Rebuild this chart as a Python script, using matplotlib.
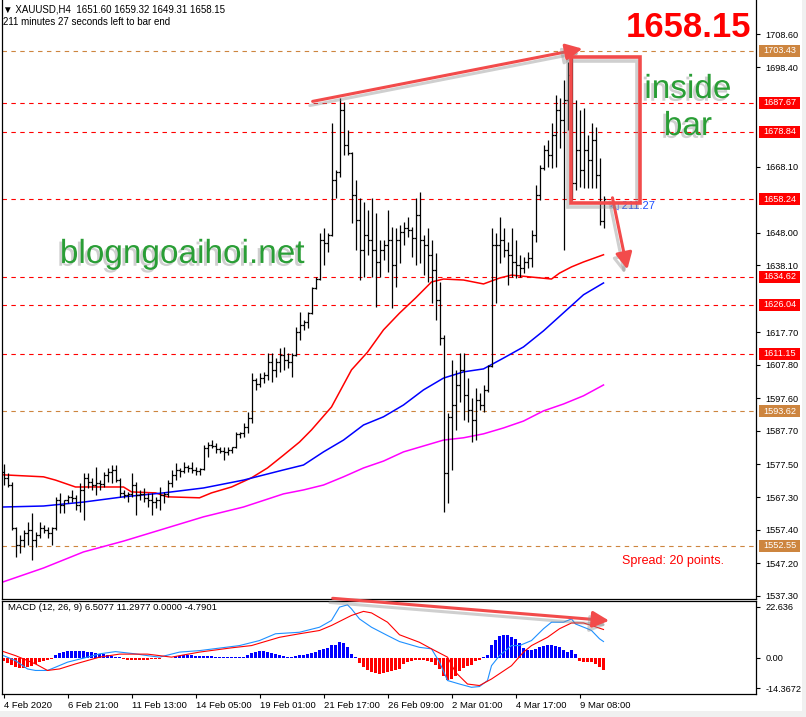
import matplotlib
matplotlib.use("Agg")
import matplotlib.pyplot as plt
import matplotlib.patheffects as pe
from matplotlib.patches import FancyArrowPatch, Rectangle
from matplotlib.transforms import blended_transform_factory

plt.rcParams['font.family'] = ['Liberation Sans', 'DejaVu Sans']

# XAUUSD H4 bars (4 Feb 2020 - 9 Mar 2020)
bar_open = [1575.0, 1573.3, 1571.1, 1558.0, 1552.8, 1554.4, 1556.5, 1557.4, 1554.4, 1555.9,
            1558.0, 1557.4, 1556.5, 1558.0, 1566.5, 1565.0, 1566.5, 1567.5, 1567.2, 1565.0,
            1569.6, 1573.3, 1572.0, 1571.1, 1571.7, 1571.4, 1574.2, 1575.1, 1575.7, 1572.6,
            1568.7, 1568.1, 1568.4, 1571.1, 1568.1, 1568.4, 1567.2, 1566.5, 1565.9, 1566.5,
            1568.1, 1568.4, 1571.7, 1574.2, 1575.7, 1575.4, 1576.6, 1576.3, 1575.7, 1575.4,
            1576.0, 1582.4, 1583.3, 1583.0, 1582.1, 1581.5, 1581.2, 1581.8, 1582.7, 1586.7,
            1587.0, 1588.8, 1591.6, 1603.1, 1601.9, 1603.7, 1604.7, 1608.6, 1606.2, 1608.6,
            1610.8, 1609.2, 1608.6, 1610.8, 1617.8, 1619.9, 1620.8, 1623.6, 1631.2, 1633.9,
            1645.8, 1644.9, 1647.3, 1664.1, 1666.6, 1685.5, 1674.8, 1672.4, 1659.5, 1651.9,
            1642.8, 1647.3, 1645.8, 1642.8, 1639.1, 1642.8, 1644.3, 1645.8, 1638.2, 1645.8,
            1648.3, 1649.5, 1648.9, 1646.4, 1653.5, 1645.8, 1644.3, 1641.3, 1636.7, 1627.5,
            1615.9, 1574.8, 1591.9, 1595.5, 1601.6, 1606.2, 1598.6, 1594.0, 1590.9, 1597.0,
            1595.5, 1600.1, 1607.4, 1644.3, 1644.3, 1645.8, 1642.8, 1641.3, 1639.1, 1638.2,
            1637.3, 1639.1, 1640.3, 1647.3, 1659.5, 1667.8, 1673.3, 1671.7, 1677.8, 1685.5,
            1682.4, 1688.5, 1696.1, 1663.2, 1673.3, 1667.2, 1673.3, 1670.2, 1676.3, 1665.6,
            1651.60]
bar_high = [1577.5, 1574.8, 1572.0, 1558.3, 1555.9, 1557.4, 1559.8, 1562.6, 1556.8, 1559.8,
            1558.9, 1558.3, 1558.3, 1567.5, 1568.7, 1566.5, 1568.1, 1569.6, 1568.1, 1571.7,
            1574.8, 1574.8, 1573.3, 1576.6, 1572.6, 1575.1, 1576.3, 1577.2, 1577.2, 1573.3,
            1569.6, 1569.0, 1574.8, 1572.0, 1569.6, 1570.2, 1568.7, 1568.7, 1567.5, 1570.5,
            1569.0, 1572.6, 1575.7, 1577.8, 1576.3, 1578.1, 1577.2, 1578.1, 1576.6, 1576.3,
            1583.3, 1584.2, 1584.8, 1583.9, 1582.7, 1582.7, 1582.7, 1582.7, 1587.3, 1587.3,
            1590.0, 1593.4, 1605.3, 1603.7, 1605.3, 1605.6, 1611.4, 1611.4, 1609.8, 1612.9,
            1613.2, 1611.4, 1611.4, 1619.3, 1623.9, 1621.4, 1623.9, 1631.5, 1634.5, 1648.0,
            1649.5, 1648.0, 1681.5, 1667.2, 1689.1, 1687.9, 1679.4, 1672.7, 1664.1, 1658.6,
            1657.4, 1655.0, 1658.6, 1654.1, 1645.8, 1645.8, 1655.0, 1649.8, 1649.5, 1650.4,
            1651.3, 1652.8, 1649.8, 1658.6, 1660.5, 1647.3, 1649.5, 1645.8, 1641.9, 1633.0,
            1616.9, 1593.1, 1609.2, 1606.2, 1611.4, 1611.4, 1603.7, 1597.7, 1600.7, 1599.2,
            1601.6, 1607.7, 1649.5, 1648.0, 1652.8, 1649.5, 1645.2, 1649.5, 1645.8, 1641.3,
            1640.6, 1642.2, 1648.9, 1662.6, 1668.7, 1674.8, 1676.3, 1681.5, 1690.0, 1689.1,
            1694.6, 1700.1, 1701.6, 1688.5, 1685.5, 1686.1, 1677.8, 1681.5, 1680.3, 1670.8,
            1659.32]
bar_low = [1571.1, 1570.5, 1557.4, 1549.2, 1550.4, 1552.2, 1552.8, 1548.3, 1552.2, 1555.0,
           1556.5, 1555.0, 1552.8, 1557.4, 1562.6, 1562.6, 1565.6, 1565.9, 1563.5, 1562.9,
           1560.5, 1570.2, 1569.6, 1568.1, 1569.6, 1570.5, 1572.0, 1571.7, 1572.0, 1567.5,
           1567.2, 1565.9, 1567.5, 1562.0, 1566.5, 1565.9, 1564.4, 1562.0, 1564.1, 1563.5,
           1565.6, 1567.5, 1570.5, 1572.6, 1573.6, 1574.8, 1575.1, 1574.8, 1574.2, 1574.2,
           1575.7, 1579.7, 1582.4, 1580.9, 1580.9, 1578.7, 1580.3, 1580.9, 1582.4, 1585.5,
           1585.8, 1587.0, 1590.0, 1600.1, 1601.0, 1602.2, 1603.1, 1602.5, 1604.1, 1605.6,
           1606.2, 1606.8, 1604.1, 1610.5, 1615.3, 1618.4, 1619.0, 1623.3, 1630.8, 1633.6,
           1638.2, 1642.2, 1647.0, 1658.6, 1665.0, 1671.7, 1671.7, 1651.0, 1642.8, 1633.6,
           1634.5, 1641.3, 1634.5, 1625.4, 1634.5, 1639.7, 1636.1, 1625.1, 1631.5, 1638.8,
           1644.3, 1646.7, 1640.6, 1638.2, 1638.8, 1635.2, 1633.0, 1626.6, 1621.4, 1613.8,
           1562.9, 1565.6, 1575.7, 1587.9, 1596.4, 1590.9, 1590.3, 1584.2, 1584.8, 1594.0,
           1593.4, 1599.5, 1607.1, 1626.6, 1638.8, 1640.6, 1632.1, 1634.5, 1634.2, 1634.5,
           1635.8, 1637.3, 1637.6, 1645.2, 1658.0, 1667.2, 1668.1, 1667.8, 1668.1, 1673.9,
           1642.8, 1679.4, 1658.0, 1661.1, 1662.0, 1661.7, 1661.7, 1661.7, 1661.7, 1650.4,
           1649.31]
bar_close = [1573.3, 1571.1, 1558.0, 1552.8, 1554.4, 1556.5, 1557.4, 1554.4, 1555.9, 1558.0,
             1557.4, 1556.5, 1558.0, 1566.5, 1565.0, 1566.5, 1567.5, 1567.2, 1565.0, 1569.6,
             1573.3, 1572.0, 1571.1, 1571.7, 1571.4, 1574.2, 1575.1, 1575.7, 1572.6, 1568.7,
             1568.1, 1568.4, 1571.1, 1568.1, 1568.4, 1567.2, 1566.5, 1565.9, 1566.5, 1568.1,
             1568.4, 1571.7, 1574.2, 1575.7, 1575.4, 1576.6, 1576.3, 1575.7, 1575.4, 1576.0,
             1582.4, 1583.3, 1583.0, 1582.1, 1581.5, 1581.2, 1581.8, 1582.7, 1586.7, 1587.0,
             1588.8, 1591.6, 1603.1, 1601.9, 1603.7, 1604.7, 1608.6, 1606.2, 1608.6, 1610.8,
             1609.2, 1608.6, 1610.8, 1617.8, 1619.9, 1620.8, 1623.6, 1631.2, 1633.9, 1645.8,
             1644.9, 1647.3, 1664.1, 1666.6, 1685.5, 1674.8, 1672.4, 1659.5, 1651.9, 1642.8,
             1647.3, 1645.8, 1642.8, 1639.1, 1642.8, 1644.3, 1645.8, 1638.2, 1645.8, 1648.3,
             1649.5, 1648.9, 1646.4, 1653.5, 1645.8, 1644.3, 1641.3, 1636.7, 1627.5, 1615.9,
             1574.8, 1591.9, 1595.5, 1601.6, 1606.2, 1598.6, 1594.0, 1590.9, 1597.0, 1595.5,
             1600.1, 1607.4, 1644.3, 1644.3, 1645.8, 1642.8, 1641.3, 1639.1, 1638.2, 1637.3,
             1639.1, 1640.3, 1647.3, 1659.5, 1667.8, 1673.3, 1671.7, 1677.8, 1685.5, 1682.4,
             1688.5, 1696.1, 1663.2, 1673.3, 1667.2, 1673.3, 1670.2, 1676.3, 1665.6, 1651.6,
             1658.15]

# moving averages, read at sample bars
red_idx = [0, 10, 13, 18, 30, 32, 38, 41, 49, 52, 57, 62, 66, 70, 74, 77, 82, 87, 91, 95,
           99, 103, 107, 110, 115, 120, 124, 127, 132, 137, 139, 142, 145, 150]
ma_red = [1574.2, 1573.6, 1572.6, 1570.5, 1570.5, 1569.0, 1568.7, 1567.5, 1567.2, 1568.7,
          1570.5, 1573.3, 1576.3, 1580.2, 1584.2, 1587.9, 1594.9, 1606.2, 1611.6, 1618.4,
          1623.5, 1628.1, 1633.0, 1633.9, 1633.6, 1632.4, 1634.2, 1635.1, 1634.5, 1633.9,
          1635.7, 1637.6, 1639.1, 1641.3]
ma_idx = [0, 10, 20, 30, 40, 50, 60, 70, 75, 80, 85, 90, 95, 100, 105, 110, 115, 120,
          125, 130, 135, 140, 145, 150]
ma_blue = [1564.4, 1564.7, 1565.9, 1567.5, 1568.7, 1570.2, 1572.6, 1575.7, 1577.2, 1581.2,
           1584.8, 1589.4, 1591.9, 1595.5, 1600.1, 1603.7, 1605.6, 1606.5, 1609.8, 1613.2,
           1618.1, 1623.6, 1629.1, 1632.7]
ma_magenta = [1541.6, 1545.8, 1550.7, 1554.0, 1557.7, 1561.4, 1564.4, 1568.4, 1569.6, 1571.1,
              1573.6, 1576.3, 1578.4, 1581.2, 1583.0, 1584.8, 1585.5, 1586.7, 1588.5, 1590.6,
              1593.7, 1595.8, 1598.3, 1601.6]

# horizontal levels drawn on the chart
red_levels = [1687.67, 1678.84, 1658.24, 1634.62, 1626.04, 1611.15]
tan_levels = [1703.43, 1593.62, 1552.55]
price_ticks = [1708.60, 1698.40, 1668.10, 1648.00, 1638.10, 1617.70, 1607.80,
               1597.60, 1587.70, 1577.50, 1567.30, 1557.40, 1547.20, 1537.30]

# MACD (12, 26, 9)
macd_hist = [-1.2, -2.0, -2.8, -3.6, -4.0, -4.0, -3.6, -3.2, -2.4, -1.6,
             -1.2, -0.8, -0.4, 1.2, 2.0, 2.4, 2.6, 2.7, 2.7, 2.6,
             2.6, 2.4, 2.2, 1.8, 1.6, 1.4, 1.0, 0.8, 0.5, 0.2,
             -0.4, -0.8, -1.0, -1.0, -1.0, -0.8, -0.8, -0.6, -0.5, -0.3,
             -0.2, -0.2, -0.2, 0.6, 0.8, 1.0, 1.0, 1.0, 0.9, 0.8,
             0.8, 0.7, 0.6, 0.5, 0.3, 0.2, 0.2, 0.2, 0.3, 0.3,
             0.4, 1.2, 2.0, 2.4, 2.6, 2.6, 2.2, 1.8, 1.4, 1.0,
             0.6, 0.4, 0.3, 0.6, 1.0, 1.3, 1.6, 2.0, 2.4, 3.0,
             3.6, 4.0, 5.2, 5.2, 6.4, 6.0, 4.4, 1.6, 0.2, -2.0,
             -3.6, -4.8, -5.6, -6.2, -6.4, -6.0, -5.6, -5.2, -4.8, -4.4,
             -2.4, -1.6, -1.2, -1.0, -1.0, -1.0, -1.2, -1.6, -2.8, -4.4,
             -7.2, -8.6, -8.4, -7.2, -5.2, -4.0, -3.2, -2.8, -1.2, -0.8,
             0.4, 1.2, 5.2, 7.2, 8.6, 9.2, 9.0, 8.4, 7.4, 6.0,
             4.0, 3.0, 3.0, 3.6, 4.4, 4.8, 5.0, 5.0, 4.8, 4.2,
             3.0, 2.4, 3.2, 1.6, -1.2, -1.6, -1.8, -1.8, -2.4, -3.6,
             -4.79]
main_idx = [0, 3, 6, 8, 11, 13, 16, 21, 24, 28, 33, 36, 39, 44, 49, 54, 59, 64, 68, 74,
            79, 82, 84, 86, 87, 89, 92, 96, 99, 104, 107, 109, 111, 114, 117, 119, 121, 122,
            124, 127, 129, 132, 135, 137, 140, 142, 143, 146, 147, 149, 150]
main_vals = [0.9, -1.1, -4.4, -5.0, -5.0, -3.7, -1.7, 0.3, 1.6, 2.5, 1.6, 0.9, 0.3, 2.3,
             2.9, 3.9, 4.9, 6.9, 9.6, 10.2, 12.2, 14.9, 20.2, 21.1, 19.5, 15.5, 12.2, 8.9,
             6.5, 4.2, 3.6, -1.7, -9.0, -10.4, -11.7, -11.4, -9.0, -3.1, 0.9, 4.9, 4.9, 6.9,
             11.6, 14.2, 14.2, 15.5, 13.5, 11.6, 10.9, 7.6, 6.5077]
signal_idx = [0, 3, 8, 11, 14, 18, 24, 29, 36, 42, 49, 57, 62, 69, 74, 79, 82, 87, 90, 92,
              96, 99, 104, 107, 111, 113, 116, 119, 122, 127, 130, 132, 136, 139, 142, 145,
              147, 150]
signal_vals = [2.5, 0.9, -2.4, -5.0, -4.4, -2.4, 0.3, 1.5, 1.5, 0.3, 2.3, 4.0, 4.9, 8.2,
               9.6, 10.9, 12.9, 16.9, 18.5, 17.9, 14.2, 9.2, 6.2, 3.6, 0.3, -5.7, -10.4,
               -11.0, -8.4, -3.1, 2.3, 4.9, 8.2, 11.6, 13.9, 13.9, 12.9, 11.2977]

time_idx = [0, 16, 32, 48, 64, 80, 96, 112, 128, 144]
time_labels = ['4 Feb 2020', '6 Feb 21:00', '11 Feb 13:00', '14 Feb 05:00', '19 Feb 01:00',
               '21 Feb 17:00', '26 Feb 09:00', '2 Mar 01:00', '4 Mar 17:00', '9 Mar 08:00']

W, H = 806, 717
fig = plt.figure(figsize=(W / 100, H / 100), dpi=100)


def px_box(l, t, r, b):
    return [l / W, 1 - b / H, (r - l) / W, (b - t) / H]


ax = fig.add_axes(px_box(2, 0, 756, 599))
ax2 = fig.add_axes(px_box(2, 601, 756, 694))
xlim = (-0.375, -0.375 + 754 / 4)

idx = list(range(len(bar_close)))

# ---- price panel ----
ax.set_xlim(*xlim)
ax.set_ylim(1536.35, 1718.97)
ax.vlines(idx, bar_low, bar_high, color='black', lw=0.9, zorder=3)
ax.hlines(bar_open, [i - 0.5 for i in idx], idx, color='black', lw=0.9, zorder=3)
ax.hlines(bar_close, idx, [i + 0.5 for i in idx], color='black', lw=0.9, zorder=3)

ax.plot(red_idx, ma_red, color='#FF0000', lw=1.1, zorder=2)
ax.plot(ma_idx, ma_blue, color='#0000FF', lw=1.1, zorder=2)
ax.plot(ma_idx, ma_magenta, color='#FF00FF', lw=1.1, zorder=2)

for lv in red_levels:
    ax.axhline(lv, color='#FF0000', lw=0.8, dashes=(4, 4), zorder=1)
for lv in tan_levels:
    ax.axhline(lv, color='#CD853F', lw=0.8, dashes=(4, 4), zorder=1)

ax.yaxis.tick_right()
ax.set_yticks(price_ticks)
ax.set_yticklabels([f'{p:.2f}' for p in price_ticks])
ax.tick_params(axis='y', length=3, width=0.8, pad=4, labelsize=6.6)
ax.set_xticks([])
ax.spines['top'].set_visible(False)
for s in ['left', 'right', 'bottom']:
    ax.spines[s].set_linewidth(0.9)

# level labels on the price scale
btr = blended_transform_factory(ax.transAxes, ax.transData)
for levels, col in [(red_levels, '#FF0000'), (tan_levels, '#CD853F')]:
    for lv in levels:
        ax.add_patch(Rectangle((1 + 3 / 754, lv - 1.85), 41 / 754, 3.7, transform=btr,
                               facecolor=col, edgecolor='none', clip_on=False, zorder=10))
        ax.text(1 + 7 / 754, lv, f'{lv:.2f}', transform=btr, color='white', fontsize=6.6,
                ha='left', va='center', clip_on=False, zorder=11)

# header texts
fig.text(3 / W, 1 - 9 / H, '\u25bc XAUUSD,H4  1651.60 1659.32 1649.31 1658.15',
         fontsize=7, va='center', ha='left')
fig.text(3 / W, 1 - 22 / H, '211 minutes 27 seconds left to bar end',
         fontsize=7, va='center', ha='left')
ax.text(1 - 5 / 754, 1707.7, '1658.15', transform=btr, ha='right', va='baseline',
        color='#FF0000', fontsize=25, fontweight='bold')
ax.text(154.6, 1548.0, 'Spread: 20 points.', color='#FF0000', fontsize=9,
        ha='left', va='center')
ax.text(151.6, 1656.2, '\u25c1 211:27', color='#1E50FF', fontsize=8, ha='left',
        va='center')

green = '#2A9E36'
shadow_txt = [pe.withSimplePatchShadow(offset=(-2, -2), shadow_rgbFace='#777777', alpha=0.35)]
ax.text(14.1, 1638.8, 'blogngoaihoi.net', color=green, fontsize=24, ha='left',
        va='baseline', path_effects=shadow_txt)
ax.text(171.1, 1689.1, 'inside', color=green, fontsize=24, ha='center', va='baseline',
        path_effects=shadow_txt)
ax.text(171.1, 1677.8, 'bar', color=green, fontsize=24, ha='center', va='baseline',
        path_effects=shadow_txt)

arrow_red = '#F24B4B'
shadow_line = [pe.SimpleLineShadow(offset=(-2, -3), shadow_color='#888888', alpha=0.4),
               pe.Normal()]


def red_arrow(axis, p0, p1):
    a = FancyArrowPatch(p0, p1, arrowstyle='-|>,head_length=0.9,head_width=0.45',
                        mutation_scale=11, color=arrow_red, lw=2.2, clip_on=False,
                        zorder=8, path_effects=shadow_line)
    axis.add_patch(a)


red_arrow(ax, (76.6, 1687.9), (145.4, 1704.3))
red_arrow(ax, (152.1, 1659.5), (156.1, 1636.0))
ax.add_patch(Rectangle((141.9, 1657.1), 17.2, 44.5, fill=False, edgecolor=arrow_red,
                       lw=2.6, zorder=8, path_effects=shadow_line))

# ---- MACD panel ----
ax2.set_xlim(*xlim)
ax2.set_ylim(-14.3672, 22.636)
ax2.bar(idx, macd_hist, width=0.75,
        color=['#0000FF' if v >= 0 else '#FF0000' for v in macd_hist], zorder=2)
ax2.plot(main_idx, main_vals, color='#1E90FF', lw=0.8, zorder=3)
ax2.plot(signal_idx, signal_vals, color='#FF0000', lw=0.8, zorder=3)
ax2.yaxis.tick_right()
ax2.set_yticks([20.25, 0.0, -11.98])
ax2.set_yticklabels(['22.636', '0.00', '-14.3672'])
ax2.tick_params(axis='y', length=3, width=0.8, pad=4, labelsize=6.6)
ax2.set_xticks(time_idx)
ax2.set_xticklabels(time_labels)
ax2.tick_params(axis='x', length=3, width=0.8, pad=2, labelsize=6.8)
for lbl in ax2.get_xticklabels():
    lbl.set_ha('left')
for s in ax2.spines.values():
    s.set_linewidth(0.9)
ax2.text(6 / 754, 0.925, 'MACD (12, 26, 9) 6.5077 11.2977 0.0000 -4.7901',
         transform=ax2.transAxes, fontsize=6.8, ha='left', va='center')
red_arrow(ax2, (81.6, 23.8), (152.1, 14.7))

# window frame strips
fig.patches.append(Rectangle((0, 0), 1, 6 / H, transform=fig.transFigure,
                             facecolor='#F0F0F0', edgecolor='none'))
fig.patches.append(Rectangle((802 / W, 0), 4 / W, 1, transform=fig.transFigure,
                             facecolor='#F0F0F0', edgecolor='none'))

fig.savefig('out.png', dpi=100)
